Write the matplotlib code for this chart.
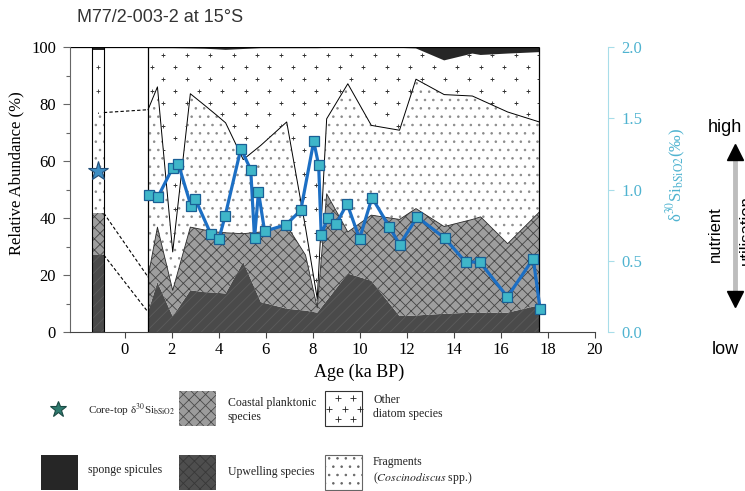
import numpy as np
import matplotlib.pyplot as plt
from matplotlib.patches import Rectangle
from matplotlib.lines import Line2D

plt.rcParams['font.family'] = 'Liberation Serif'
plt.rcParams['mathtext.fontset'] = 'stix'
plt.rcParams['hatch.linewidth'] = 0.6

# diatom assemblage, upper boundary of each stacked group (%)
ages = np.array([1.0, 1.4, 2.05, 2.8, 3.4, 3.9, 4.3, 5.05, 5.8, 6.9, 7.7, 8.2, 8.6,
                 9.5, 10.5, 11.7, 12.4, 13.6, 14.8, 15.15, 16.3, 17.65])
top_upwelling = np.array([7, 17.5, 5.5, 14.6, 14, 13.8, 13.5, 24.6, 10.5, 8.2, 7.5, 6.8, 11,
                          20.5, 18, 5.6, 5.8, 6.4, 6.8, 6.8, 6.8, 9.4])
top_coastal = np.array([19.3, 36.8, 14.6, 36.8, 35.8, 35.1, 34.8, 34.5, 35.1, 37.4, 27, 8.5, 48.5,
                        35.1, 41, 39.5, 43.3, 37, 39.5, 40.4, 31, 42.1])
top_fragments = np.array([78, 86, 28.1, 83.6, 79.6, 76.2, 73.4, 60.5, 65.5, 73.7, 36.6, 11.7, 74.8,
                          87.1, 72.5, 70.8, 88.7, 83.3, 82.8, 81.5, 77.2, 73.7])
top_other = np.array([99.6, 99.6, 99.6, 99.5, 99.4, 99.2, 99.0, 99.3, 99.6, 99.6, 99.6, 99.6, 99.7,
                      99.7, 99.7, 99.7, 99.5, 95.3, 97.7, 97.2, 97.7, 98.2])

# core-top sample: upwelling, coastal, fragments, other, sponge (cumulative %)
core_age = -1.13
core_tops = [27, 41.7, 77, 99, 100]
core_d30 = 1.13

# d30Si of biogenic opal
si_age = [1.04, 1.41, 2.05, 2.29, 2.83, 3.0, 3.68, 4.02, 4.28, 4.95, 5.37, 5.53, 5.7, 5.96,
          6.87, 7.5, 8.05, 8.26, 8.37, 8.64, 9.01, 9.47, 10.0, 10.53, 11.27, 11.71, 12.45,
          13.62, 14.51, 15.12, 16.29, 17.39, 17.68]
si_d30 = [0.964, 0.945, 1.153, 1.179, 0.884, 0.936, 0.685, 0.655, 0.814, 1.287, 1.139, 0.659,
          0.982, 0.707, 0.753, 0.854, 1.338, 1.17, 0.678, 0.80, 0.76, 0.90, 0.655, 0.943,
          0.737, 0.613, 0.807, 0.659, 0.491, 0.491, 0.246, 0.515, 0.164]

c_up, h_up = '#4a4a4a', '#5c5c5c'
c_coast, h_coast = '#9e9e9e', '#444444'
c_sponge = '#262626'
dots = '#8a8a8a'
cyan = '#4fb3d0'

W, H = 745, 491
fig = plt.figure(figsize=(W / 100, H / 100), dpi=100)
ax = fig.add_axes([70 / W, 1 - 332 / H, 524.6 / W, 285 / H])
ax.set_xlim(-2.32, 20)
ax.set_ylim(0, 100)

# stacked panel
ax.fill_between(ages, 0, top_upwelling, facecolor=c_up, edgecolor=h_up, hatch='///', lw=0)
ax.fill_between(ages, top_upwelling, top_coastal, facecolor=c_coast, edgecolor=h_coast, hatch='xxx', lw=0)
ax.fill_between(ages, top_coastal, top_fragments, facecolor='white', edgecolor=dots, hatch='..', lw=0)
other_fill = ax.fill_between(ages, top_fragments, top_other, facecolor='white', lw=0)
ax.fill_between(ages, top_other, 100, facecolor=c_sponge, lw=0)
ax.plot(ages, top_coastal, color='#222222', lw=0.6)
ax.plot(ages, top_fragments, color='black', lw=0.7)
ax.vlines([ages[0], ages[-1]], 0, 100, color='black', lw=0.9)
ax.hlines(100, ax.get_xlim()[0], ages[-1], color='black', lw=0.9)

# core-top bar
seg_style = [dict(facecolor=c_up, edgecolor=h_up, hatch='///'),
             dict(facecolor=c_coast, edgecolor=h_coast, hatch='xxx'),
             dict(facecolor='white', edgecolor=dots, hatch='..'),
             dict(facecolor='white'),
             dict(facecolor=c_sponge)]
bottoms = [0] + core_tops[:-1]
bar_segs = []
for b, t, st in zip(bottoms, core_tops, seg_style):
    bar_segs.append(ax.bar(core_age, t - b, bottom=b, width=0.5, lw=0, **st)[0])
ax.bar(core_age, 100, width=0.5, fill=False, edgecolor='black', lw=0.8)

# dashed links from core top to first downcore sample
for ct, series in zip(core_tops[:3], [top_upwelling, top_coastal, top_fragments]):
    ax.plot([core_age + 0.25, ages[0]], [ct, series[0]], color='black', lw=0.8, ls=(0, (3, 2)))

# "+" texture for other diatom species
rows = np.arange(97.1, 0, -4.15)
gx, gy = [], []
for i, yv in enumerate(rows):
    xs = np.arange(-2.35 + (0.5 if i % 2 else 0.0), 18, 1.0)
    gx.extend(xs)
    gy.extend([yv] * len(xs))
p1 = ax.scatter(gx, gy, marker='+', s=8, c='#333333', lw=0.6, zorder=2.5)
p1.set_clip_path(other_fill.get_paths()[0], ax.transData)
p2 = ax.scatter([core_age] * len(rows[1::2]), rows[1::2], marker='+', s=8, c='#333333', lw=0.6, zorder=2.5)
p2.set_clip_path(bar_segs[3])

for s in ['top', 'right']:
    ax.spines[s].set_visible(False)
ax.spines['left'].set_color('#666666')
ax.spines['bottom'].set_color('#444444')
ax.set_xticks(np.arange(0, 21, 2))
ax.set_yticks(np.arange(0, 101, 20))
ax.set_yticks(np.arange(10, 100, 20), minor=True)
ax.tick_params(axis='y', which='major', direction='out', length=5, width=0.8, color='#666666',
               labelsize=12, pad=5)
ax.tick_params(axis='y', which='minor', direction='out', length=3, width=0.8, color='#666666')
ax.tick_params(axis='x', direction='out', length=4, width=0.8, color='#444444', labelsize=12, pad=3)
ax.set_xlabel('Age (ka BP)', fontsize=13)
ax.xaxis.set_label_coords(0.552, -0.112)
ax.set_ylabel('Relative Abundance (%)', fontsize=12)
ax.yaxis.set_label_coords(-0.086, 0.556)

# isotope axis
ax2 = ax.twinx()
ax2.set_ylim(0, 2)
ax2.set_yticks(np.arange(0, 2.01, 0.5))
ax2.yaxis.set_major_formatter('{x:.1f}')
for s in ['top', 'left', 'bottom']:
    ax2.spines[s].set_visible(False)
ax2.spines['right'].set_position(('outward', 9.4))
ax2.spines['right'].set_color('#a8dde9')
ax2.tick_params(axis='y', colors='#a8dde9', labelcolor=cyan, direction='out', length=4,
                labelsize=12, pad=6)
ax2.set_ylabel('δ$^{30}$Si$_{\\mathrm{bSiO2}}$(‰)', fontsize=12, color=cyan)
ax2.yaxis.set_label_coords(1.134, 0.55)
ax2.plot(si_age, si_d30, '-s', color='#1c6fc4', lw=2.3, ms=6.5, mfc='#3fb6c9', mec='#1a5f95', mew=0.9)
ax2.plot(core_age, core_d30, marker='*', ms=15, mfc='#3d8ec4', mec='#24507a', mew=0.8)

fig.text(77 / W, 1 - 17 / H, 'M77/2-003-2 at 15°S', family='Liberation Sans', fontsize=13,
         color='#333333', ha='left', va='center')

# nutrient utilisation arrow
fig.add_artist(Line2D([735 / W] * 2, [1 - 158 / H, 1 - 293 / H], transform=fig.transFigure,
                      color='#bdbdbd', lw=3.5))
fig.add_artist(Line2D([735 / W], [1 - 152 / H], marker='^', ms=12, color='black', transform=fig.transFigure))
fig.add_artist(Line2D([735 / W], [1 - 299 / H], marker='v', ms=12, color='black', transform=fig.transFigure))
fig.text(725 / W, 1 - 127 / H, 'high', family='Liberation Sans', fontsize=13, ha='center', va='center')
fig.text(725 / W, 1 - 350 / H, 'low', family='Liberation Sans', fontsize=13, ha='center', va='center')
fig.text(715 / W, 1 - 234 / H, 'nutrient', family='Liberation Sans', fontsize=12, rotation=90,
         ha='center', va='center')
fig.text(746 / W, 1 - 230 / H, 'utilisation', family='Liberation Sans', fontsize=12, rotation=90,
         ha='center', va='center')

# legend, laid out in figure pixels
lax = fig.add_axes([0, 0, 1, 1])
lax.set_xlim(0, W)
lax.set_ylim(H, 0)
lax.axis('off')
box_w, box_h = 37, 35
swatches = [
    (179, 391, dict(facecolor='#9c9c9c', edgecolor='#4a4a4a', hatch='xxx', lw=0)),
    (325, 391, dict(facecolor='white', edgecolor='#333333', lw=0.8)),
    (41, 455, dict(facecolor='#262626', edgecolor='#262626', lw=0)),
    (179, 455, dict(facecolor='#4e4e4e', edgecolor='#383838', hatch='xxx', lw=0)),
    (325, 455, dict(facecolor='white', edgecolor='#666666', hatch='..', lw=0.8)),
]
for x0, y0, st in swatches:
    lax.add_patch(Rectangle((x0, y0), box_w, box_h, **st))
plus_fx = np.array([0.35, 0.75, 0.1, 0.55, 0.95, 0.35, 0.75])
plus_fy = np.array([0.2, 0.2, 0.5, 0.5, 0.5, 0.8, 0.8])
lax.plot(325 + box_w * plus_fx, 391 + box_h * plus_fy, ls='none', marker='+', ms=4, mew=0.6,
         color='#222222')
lax.plot(58, 409, marker='*', ms=12, mfc='#2e7a6e', mec='#1b4a44', mew=0.8)
leg_texts = [
    (88, 410, 'Core-top δ$^{30}$Si$_{\\mathrm{bSiO2}}$', 8),
    (228, 410, 'Coastal planktonic\nspecies', 8.5),
    (373, 407, 'Other\ndiatom species', 8.5),
    (88, 470, 'sponge spicules', 8.5),
    (228, 472, 'Upwelling species', 8.5),
    (373, 471, 'Fragments\n($\\it{Coscinodiscus}$ spp.)', 8.5),
]
for x0, y0, t, fs in leg_texts:
    lax.text(x0, y0, t, fontsize=fs, ha='left', va='center', linespacing=1.25, color='#222222')

fig.savefig('out.png', dpi=100)
